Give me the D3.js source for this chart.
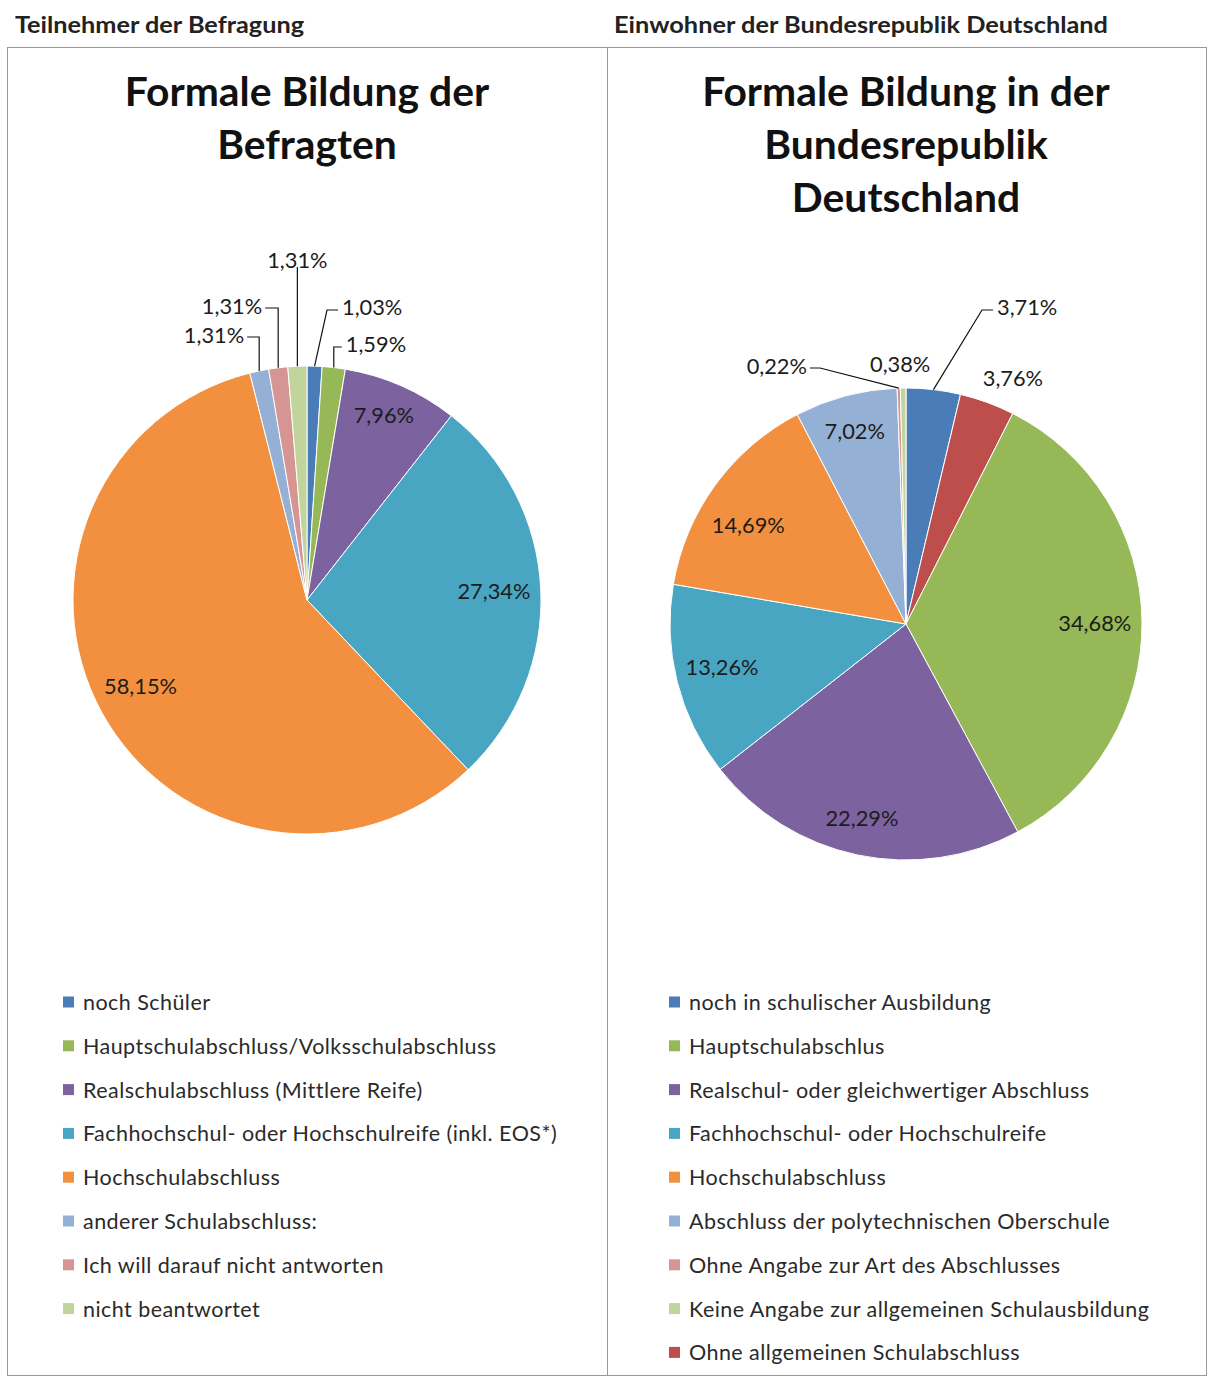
<!DOCTYPE html>
<html>
<head>
<meta charset="utf-8">
<script src="https://cdn.jsdelivr.net/npm/d3@7/dist/d3.min.js"></script>
<style>
  body { margin: 0; background: #fff; }
  svg { display: block; }
</style>
</head>
<body>
<svg id="chart" width="1211" height="1378"></svg>
<script>
// ---- Survey participants ----
const surveyHeader = "Teilnehmer der Befragung";
const surveyTitle = ["Formale Bildung der", "Befragten"];
const surveyCategories = [
  "noch Schüler",
  "Hauptschulabschluss/Volksschulabschluss",
  "Realschulabschluss (Mittlere Reife)",
  "Fachhochschul- oder Hochschulreife (inkl. EOS*)",
  "Hochschulabschluss",
  "anderer Schulabschluss:",
  "Ich will darauf nicht antworten",
  "nicht beantwortet"
];
const surveyValues = [1.03, 1.59, 7.96, 27.34, 58.15, 1.31, 1.31, 1.31];
const surveyColors = ["#4A7DB8", "#96B857", "#7D62A0", "#49A6C2", "#F2903F", "#94B0D5", "#D69492", "#C1D49B"];
const surveySliceOrder = [0, 1, 2, 3, 4, 5, 6, 7];

// ---- Population of Germany ----
const populationHeader = "Einwohner der Bundesrepublik Deutschland";
const populationTitle = ["Formale Bildung in der", "Bundesrepublik", "Deutschland"];
const populationCategories = [
  "noch in schulischer Ausbildung",
  "Hauptschulabschlus",
  "Realschul- oder gleichwertiger Abschluss",
  "Fachhochschul- oder Hochschulreife",
  "Hochschulabschluss",
  "Abschluss der polytechnischen Oberschule",
  "Ohne Angabe zur Art des Abschlusses",
  "Keine Angabe zur allgemeinen Schulausbildung",
  "Ohne allgemeinen Schulabschluss"
];
const populationValues = [3.71, 34.68, 22.29, 13.26, 14.69, 7.02, 0.22, 0.38, 3.76];
const populationColors = ["#4A7DB8", "#96B857", "#7D62A0", "#49A6C2", "#F2903F", "#94B0D5", "#D69492", "#C1D49B", "#BD4E4B"];
// clockwise from 12 o'clock
const populationSliceOrder = [0, 8, 1, 2, 3, 4, 5, 6, 7];

// ---- label placement (per category index) ----
// polar: k = radius factor, shift = degrees added to slice mid-angle
// leader: elbow offset from centre (x null -> same x as slice edge), run = horizontal tail
const surveyLabelLayout = [
  { type: "leader", elbow: [20, -290], run: 11 },
  { type: "leader", elbow: [null, -253], run: 8 },
  { type: "polar", k: 0.86, shift: -1.3 },
  { type: "polar", k: 0.80, shift: -0.3 },
  { type: "polar", k: 0.80, shift: 1.6 },
  { type: "leader", elbow: [null, -263], run: -12 },
  { type: "leader", elbow: [null, -292], run: -13 },
  { type: "leader", elbow: [null, -333], run: 0 }
];
const populationLabelLayout = [
  { type: "leader", elbow: [76, -314], run: 11 },
  { type: "polar", k: 0.80, shift: 0.1 },
  { type: "polar", k: 0.84, shift: 1.0 },
  { type: "polar", k: 0.80, shift: 1.2 },
  { type: "polar", k: 0.79, shift: -3.9 },
  { type: "polar", k: 0.85, shift: 0 },
  { type: "leader", elbow: [-86, -256], run: -10 },
  { type: "polar", k: 1.106, shift: -0.6 },
  { type: "polar", k: 1.14, shift: 3.3 }
];

const FONT = "Lato, 'Open Sans', sans-serif";
const de = d3.formatLocale({ decimal: ",", thousands: ".", grouping: [3], currency: ["", "€"] });
const fmt = v => de.format(".2f")(v) + "%";

const svg = d3.select("#chart");

// frame around both panels
const frame = svg.append("g").attr("fill", "none").attr("stroke", "#9a9a9a").attr("stroke-width", 1);
frame.append("rect").attr("x", 7.5).attr("y", 47.5).attr("width", 1199).attr("height", 1328);
frame.append("line").attr("x1", 607.5).attr("x2", 607.5).attr("y1", 47.5).attr("y2", 1375.5);

const panels = [
  {
    header: surveyHeader, headerX: 15, headerW: 289, title: surveyTitle, cx: 307, cy: 600, r: 234,
    categories: surveyCategories, values: surveyValues, colors: surveyColors,
    order: surveySliceOrder, layout: surveyLabelLayout, legendX: 63
  },
  {
    header: populationHeader, headerX: 614, headerW: 494, title: populationTitle, cx: 906, cy: 624, r: 236,
    categories: populationCategories, values: populationValues, colors: populationColors,
    order: populationSliceOrder, layout: populationLabelLayout, legendX: 669
  }
];

panels.forEach(p => {
  const g = svg.append("g");

  g.append("text")
    .attr("x", p.headerX).attr("y", 33)
    .attr("font-family", FONT).attr("font-weight", 700).attr("font-size", 22)
    .attr("fill", "#222")
    .attr("textLength", p.headerW).attr("lengthAdjust", "spacingAndGlyphs")
    .text(p.header);

  g.append("text")
    .attr("font-family", FONT).attr("font-weight", 700).attr("font-size", 40.8)
    .attr("fill", "#111").attr("text-anchor", "middle")
    .selectAll("tspan").data(p.title).join("tspan")
    .attr("x", p.cx).attr("y", (d, i) => 106 + i * 53)
    .text(d => d);

  const slices = p.order.map(i => ({ i, value: p.values[i] }));
  const pie = d3.pie().sort(null).value(d => d.value).startAngle(0).endAngle(2 * Math.PI);
  const arcs = pie(slices);
  const arc = d3.arc().innerRadius(0).outerRadius(p.r);

  const pg = g.append("g").attr("transform", `translate(${p.cx},${p.cy})`);
  pg.selectAll("path").data(arcs).join("path")
    .attr("d", arc)
    .attr("fill", d => p.colors[d.data.i])
    .attr("stroke", "#fff").attr("stroke-width", 1);

  const labelG = pg.append("g")
    .attr("font-family", FONT).attr("font-size", 21.8).attr("fill", "#1c1c1c");
  const lineG = pg.append("g").attr("stroke", "#111").attr("stroke-width", 1.2).attr("fill", "none");

  arcs.forEach(a => {
    const L = p.layout[a.data.i];
    const mid = (a.startAngle + a.endAngle) / 2;
    const txt = fmt(a.data.value);
    if (L.type === "polar") {
      const ang = mid + L.shift * Math.PI / 180;
      const rr = p.r * L.k;
      labelG.append("text")
        .attr("x", rr * Math.sin(ang)).attr("y", -rr * Math.cos(ang))
        .attr("text-anchor", "middle").attr("dominant-baseline", "central")
        .text(txt);
    } else {
      const sx = p.r * Math.sin(mid), sy = -p.r * Math.cos(mid);
      const ex = L.elbow[0] === null ? sx : L.elbow[0], ey = L.elbow[1];
      const tx = ex + L.run;
      lineG.append("path").attr("d", d3.line()([[sx, sy], [ex, ey], [tx, ey]]));
      const t = labelG.append("text").attr("dominant-baseline", "central").text(txt);
      if (L.run > 0) t.attr("x", tx + 4).attr("y", ey - 4).attr("text-anchor", "start");
      else if (L.run < 0) t.attr("x", tx - 3).attr("y", ey - 3).attr("text-anchor", "end");
      else t.attr("x", ex).attr("y", ey - 8).attr("text-anchor", "middle");
    }
  });

  // legend
  const lg = g.append("g").attr("transform", `translate(${p.legendX},1002)`);
  const rows = lg.selectAll("g").data(p.categories).join("g")
    .attr("transform", (d, i) => `translate(0,${i * 43.8})`);
  rows.append("rect").attr("x", 0).attr("y", -5.5).attr("width", 11).attr("height", 11)
    .attr("fill", (d, i) => p.colors[i]);
  rows.append("text").attr("x", 20).attr("y", 0).attr("dominant-baseline", "central")
    .attr("font-family", FONT).attr("font-size", 21.5).attr("letter-spacing", 0.45)
    .attr("fill", "#2a2a2a")
    .text(d => d);
});
</script>
</body>
</html>
